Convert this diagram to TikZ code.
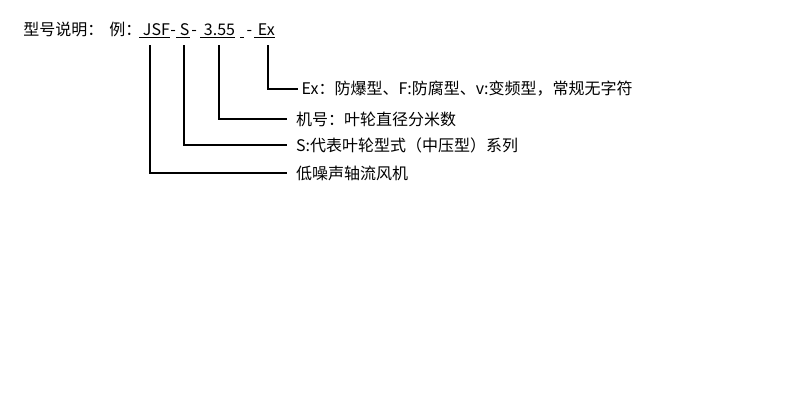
\documentclass[tikz,border=0pt]{standalone}
\usepackage{fontspec}
\setmainfont{Noto Sans CJK SC}
\usetikzlibrary{positioning}

\begin{document}
\begin{tikzpicture}[x=0.75pt,y=-0.75pt,semithick,
      head/.style={anchor=base west,inner sep=0pt,font=\fontsize{12}{14}\selectfont},
      code/.style={head},
      desc/.style={anchor=west,inner ysep=0pt,inner xsep=6.5pt,font=\fontsize{12}{14}\selectfont},
      lead/.style={draw,line width=0.9pt}]
    \useasboundingbox (0,0) rectangle (800,400);
    % header line
    \node[head] (title) at (23,35) {型号说明：};
    \node[head] (eg)    at (109,35) {例：};
    \node[code] (jsf)   at (139,35) {\underline{\ JSF}};
    \node[code] (d1)    at (170,35) {-};
    \node[code] (s)     at (176,35) {\underline{\ S}};
    \node[code] (d2)    at (191,35) {-};
    \node[code] (num)   at (200,35) {\underline{\ 3.55}};
    \node[code] (d3)    at (240,35) {\underline{\ }\,-};
    \node[code] (ex)    at (254,35) {\underline{\ Ex}};
    % explanations
    \node[desc,inner xsep=2.5pt] (lblEx) at (298,89)
         {Ex：防爆型、F:防腐型、v:变频型，常规无字符};
    \node[desc] (lblNum) at (287,119) {机号：叶轮直径分米数};
    \node[desc] (lblS)   at (287,145) {S:代表叶轮型式（中压型）系列};
    \node[desc] (lblJsf) at (287,173) {低噪声轴流风机};
    % leaders
    \coordinate (exTop)  at (268,45);
    \coordinate (numTop) at (219,45);
    \coordinate (sTop)   at (184,45);
    \coordinate (jsfTop) at (150,45);
    \draw[lead] (exTop)  |- (lblEx.west);
    \draw[lead] (numTop) |- (lblNum.west);
    \draw[lead] (sTop)   |- (lblS.west);
    \draw[lead] (jsfTop) |- (lblJsf.west);
\end{tikzpicture}
\end{document}
